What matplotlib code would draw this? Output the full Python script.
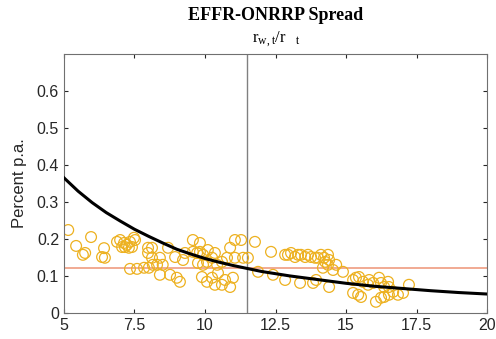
import matplotlib
matplotlib.use("Agg")
import matplotlib.pyplot as plt

# fitted curve
curve_x = [5, 5.5, 6, 6.5, 7, 7.5, 8, 8.5, 9, 9.5, 10, 10.5, 11, 11.5,
           12, 13, 14, 15, 16, 17, 18, 19, 20]
curve_y = [0.365, 0.329, 0.298, 0.271, 0.248, 0.226, 0.207, 0.189, 0.172,
           0.159, 0.147, 0.137, 0.128, 0.120, 0.112, 0.100, 0.090, 0.080,
           0.072, 0.066, 0.060, 0.055, 0.051]

# observed spread
obs_x = [5.15, 5.43, 5.96, 5.67, 5.75, 6.42, 6.35, 6.45,
         6.88, 6.99, 7.13, 7.23, 7.34, 7.48, 7.52, 7.30, 7.06, 7.16, 7.41,
         7.98, 7.98, 7.34, 7.59, 7.84, 8.01,
         8.12, 8.12, 8.15, 8.40, 8.50, 8.30, 8.40, 8.69, 8.94, 9.22, 9.29,
         9.57, 9.82, 9.57, 9.72, 9.82, 9.93, 10.10, 10.35, 10.25, 10.07,
         9.93, 9.75, 10.43, 10.60, 10.78, 10.89, 11.06, 11.06,
         8.76, 9.00, 9.11, 9.89, 10.07, 10.25, 10.35, 10.60, 10.71, 10.46,
         10.89, 10.99,
         11.28, 11.77, 11.35, 11.52, 12.34,
         12.84, 12.94, 13.05, 13.19, 13.30, 13.40, 13.55, 13.65, 13.76,
         13.90, 14.00, 14.11, 14.22,
         11.88, 12.41, 12.84, 13.37, 13.83, 13.94, 14.18, 14.26,
         14.36, 14.40, 14.36, 14.65, 14.54, 14.89, 14.40,
         15.25, 15.35, 15.46, 15.60, 15.78, 15.82, 15.96, 16.17, 16.24,
         16.35, 16.49, 16.52, 16.67, 16.84, 17.02, 17.23,
         15.25, 15.43, 15.53, 16.06, 16.24, 16.35, 16.52]
obs_y = [0.224, 0.181, 0.205, 0.157, 0.162, 0.175, 0.151, 0.149,
         0.192, 0.197, 0.189, 0.184, 0.192, 0.203, 0.197, 0.176, 0.178, 0.178, 0.178,
         0.176, 0.162, 0.119, 0.119, 0.122, 0.122,
         0.176, 0.149, 0.130, 0.149, 0.130, 0.130, 0.103, 0.176, 0.151, 0.143, 0.162,
         0.197, 0.189, 0.165, 0.162, 0.165, 0.157, 0.170, 0.162, 0.149, 0.138,
         0.130, 0.135, 0.130, 0.138, 0.149, 0.176, 0.197, 0.149,
         0.103, 0.095, 0.084, 0.097, 0.084, 0.095, 0.076, 0.076, 0.089, 0.108,
         0.070, 0.095,
         0.197, 0.192, 0.149, 0.149, 0.165,
         0.157, 0.157, 0.162, 0.151, 0.157, 0.157, 0.151, 0.157, 0.151,
         0.149, 0.149, 0.157, 0.149,
         0.111, 0.103, 0.089, 0.081, 0.081, 0.089, 0.122, 0.138,
         0.157, 0.143, 0.130, 0.130, 0.116, 0.111, 0.070,
         0.089, 0.095, 0.097, 0.084, 0.076, 0.089, 0.081, 0.095, 0.081,
         0.070, 0.084, 0.070, 0.057, 0.049, 0.054, 0.076,
         0.054, 0.049, 0.043, 0.030, 0.041, 0.043, 0.049]

hline_y = 0.12
vline_x = 11.5
x_ticks = [5, 7.5, 10, 12.5, 15, 17.5, 20]
y_ticks = [0, 0.1, 0.2, 0.3, 0.4, 0.5, 0.6]

plt.rcParams["font.family"] = ["Liberation Sans", "DejaVu Sans"]

fig = plt.figure(figsize=(4.96, 3.39), dpi=100)
ax = fig.add_axes([0.129, 0.077, 0.853, 0.764])

ax.scatter(obs_x, obs_y, s=60, facecolors="none", edgecolors="#EDB120",
           linewidths=0.9, zorder=2)
ax.plot(curve_x, curve_y, color="black", linewidth=2.2, zorder=3)
ax.axhline(hline_y, color="#F0A48A", linewidth=1.3, zorder=1)
ax.axvline(vline_x, color="#808080", linewidth=1.0, zorder=1)

ax.set_xlim(5, 20)
ax.set_ylim(0, 0.7)
ax.set_xticks(x_ticks)
ax.set_xticklabels(["5", "7.5", "10", "12.5", "15", "17.5", "20"])
ax.set_yticks(y_ticks)
ax.set_yticklabels(["0", "0.1", "0.2", "0.3", "0.4", "0.5", "0.6"])
ax.tick_params(direction="in", length=3, width=0.8, colors="#262626",
               labelsize=11.5, top=True, right=True)
for s in ax.spines.values():
    s.set_color("#707070")
    s.set_linewidth(0.8)

ax.set_ylabel("Percent p.a.", fontsize=12, color="#262626", labelpad=7)

fig.text(0.555, 0.955, "EFFR-ONRRP Spread", ha="center", va="center",
         fontsize=13, fontweight="bold", family=["Liberation Serif"])
ax.text(vline_x + 0.15, 1.02, r"$\mathregular{r_{w,t}/r\ \ _{t}}$",
        transform=ax.get_xaxis_transform(), ha="left", va="bottom",
        fontsize=12, family=["Liberation Serif"])

fig.savefig("out.png", dpi=100)
